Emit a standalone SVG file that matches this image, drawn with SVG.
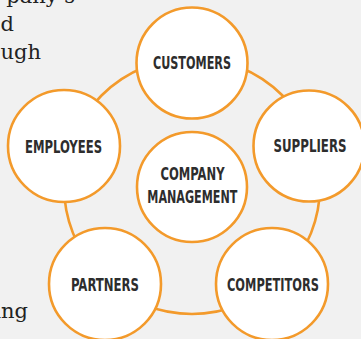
<svg xmlns="http://www.w3.org/2000/svg" width="361" height="339" viewBox="0 0 361 339">
<style>
.bg{fill:#f1f1f1}
.ring{fill:none;stroke:#f39a2b;stroke-width:2.6}
.node{fill:#ffffff;stroke:#f39a2b;stroke-width:2.6}
.lbl{font-family:"DejaVu Sans Condensed","DejaVu Sans","Liberation Sans",sans-serif;font-weight:bold;font-size:17px;fill:#2d2d2d;text-anchor:middle}
.body{font-family:"DejaVu Serif","Liberation Serif",serif;font-size:21px;fill:#222222;text-anchor:end}
</style>
<rect class="bg" x="0" y="0" width="361" height="339"/>
<g id="body-text">
<text class="body" x="75" y="3">pany’s</text>
<text class="body" x="14" y="31">d</text>
<text class="body" x="41" y="59">ugh</text>
<text class="body" x="28" y="318">ing</text>
</g>
<g id="connectors">
<circle class="ring" cx="192" cy="186" r="128"/>
</g>
<g id="customers">
<circle class="node" cx="192" cy="63" r="55.5"/>
<text class="lbl" x="192" y="69" textLength="78" lengthAdjust="spacingAndGlyphs">CUSTOMERS</text>
</g>
<g id="employees">
<circle class="node" cx="64" cy="146" r="56"/>
<text class="lbl" x="63.5" y="153" textLength="77" lengthAdjust="spacingAndGlyphs">EMPLOYEES</text>
</g>
<g id="suppliers">
<circle class="node" cx="309" cy="146" r="55.5"/>
<text class="lbl" x="310" y="152" textLength="73" lengthAdjust="spacingAndGlyphs">SUPPLIERS</text>
</g>
<g id="partners">
<circle class="node" cx="105" cy="284" r="56"/>
<text class="lbl" x="105" y="290.5" textLength="68" lengthAdjust="spacingAndGlyphs">PARTNERS</text>
</g>
<g id="competitors">
<circle class="node" cx="272" cy="284" r="56"/>
<text class="lbl" x="273" y="291" textLength="92" lengthAdjust="spacingAndGlyphs">COMPETITORS</text>
</g>
<g id="company-management">
<circle class="node" cx="192" cy="187" r="55"/>
<text class="lbl" x="192.5" y="180" textLength="64" lengthAdjust="spacingAndGlyphs">COMPANY</text>
<text class="lbl" x="192.3" y="203" textLength="90" lengthAdjust="spacingAndGlyphs">MANAGEMENT</text>
</g>
</svg>
